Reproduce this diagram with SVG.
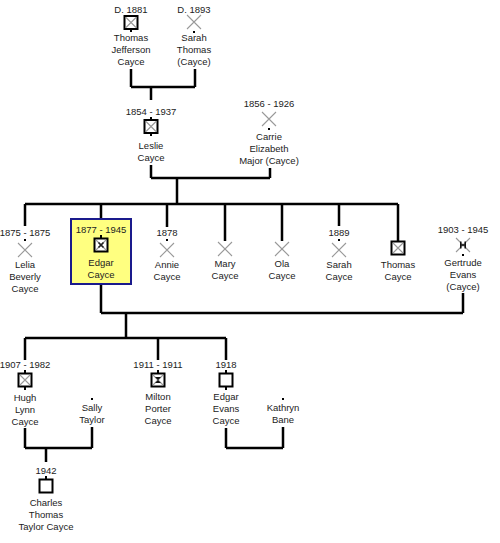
<svg xmlns="http://www.w3.org/2000/svg" xmlns:xlink="http://www.w3.org/1999/xlink" width="500" height="543" viewBox="0 0 500 543">
<style>
.ln{stroke:#000;stroke-width:2.5;fill:none}
.t{font-family:"Liberation Sans",Arial,sans-serif;font-size:9.5px;fill:#222;text-anchor:middle}
.gx{stroke:#999;stroke-width:1.1;fill:none}
.bx{fill:#fff;stroke:#000;stroke-width:2}
.st{fill:#000}
.sel{fill:#ffff80;stroke:#1a1a8c;stroke-width:2}
</style>
<defs>
<g id="xx"><path class="gx" d="M-7,-7L7,7M7,-7L-7,7"/></g>
<g id="sqx"><rect class="bx" x="-6.5" y="-6.5" width="13" height="13"/><path class="gx" d="M-5,-5L5,5M5,-5L-5,5"/></g>
<g id="sq"><rect class="bx" x="-6.5" y="-6.5" width="13" height="13"/></g>
</defs>
<rect width="500" height="543" fill="#fff"/>
<g id="connectors">
<path class="ln" d="M131,69V87M195,69V87M131,87H195M151,87V100"/>
<path class="ln" d="M151,165V178M270,168V178M151,178H270M177,178V204"/>
<path class="ln" d="M25,204H398M25,204V226M101,204V219M167,204V227M225,204V241M282,204V241M339,204V226M398,204V241"/>
<path class="ln" d="M101,284V313M463,293V313M101,313H463M126,313V338"/>
<path class="ln" d="M25,338H226M25,338V360M158,338V360M226,338V360"/>
<path class="ln" d="M25,428V448M92,427V448M25,448H92M46,448V462"/>
<path class="ln" d="M226,428V448M283,427V448M226,448H283"/>
</g>
<g id="thomas-jefferson">
<text class="t" x="131" y="13">D. 1881</text>
<use href="#sqx" x="131" y="22.5"/>
<rect class="st" x="130" y="29" width="2" height="3"/>
<text class="t" x="131" y="41">Thomas</text><text class="t" x="131" y="53">Jefferson</text><text class="t" x="131" y="65">Cayce</text>
</g>
<g id="sarah-thomas">
<text class="t" x="194" y="13">D. 1893</text>
<use href="#xx" x="194" y="22"/>
<rect class="st" x="193" y="31" width="2" height="2"/>
<text class="t" x="194" y="41">Sarah</text><text class="t" x="194" y="53">Thomas</text><text class="t" x="194" y="65">(Cayce)</text>
</g>
<g id="leslie">
<text class="t" x="151" y="115">1854 - 1937</text>
<rect class="st" x="150" y="117" width="2" height="3"/>
<use href="#sqx" x="151" y="126.5"/>
<rect class="st" x="150" y="133" width="2" height="3"/>
<text class="t" x="151" y="149">Leslie</text><text class="t" x="151" y="161">Cayce</text>
</g>
<g id="carrie">
<text class="t" x="269" y="107">1856 - 1926</text>
<use href="#xx" x="269" y="119"/>
<rect class="st" x="268" y="128" width="2" height="2"/>
<text class="t" x="269" y="140">Carrie</text><text class="t" x="269" y="152">Elizabeth</text><text class="t" x="269" y="164">Major (Cayce)</text>
</g>
<g id="lelia">
<text class="t" x="25" y="236">1875 - 1875</text>
<rect class="st" x="24" y="239" width="2" height="2"/>
<use href="#xx" x="25" y="250"/>
<text class="t" x="25" y="268">Lelia</text><text class="t" x="25" y="280">Beverly</text><text class="t" x="25" y="292">Cayce</text>
</g>
<g id="edgar">
<rect class="sel" x="71" y="219" width="60" height="65"/>
<text class="t" x="101" y="233">1877 - 1945</text>
<rect class="st" x="100" y="235" width="2" height="3"/>
<rect class="bx" x="94.5" y="238.5" width="13" height="13" stroke-width="2.5"/>
<path class="gx" d="M96,240L106,250M106,240L96,250"/>
<path fill="none" stroke="#222" stroke-width="1.6" d="M98.5,242.5L103.5,247.5M103.5,242.5L98.5,247.5"/>
<text class="t" x="101" y="266">Edgar</text><text class="t" x="101" y="278">Cayce</text>
</g>
<g id="annie">
<text class="t" x="167" y="236">1878</text>
<rect class="st" x="166" y="239" width="2" height="2"/>
<use href="#xx" x="167" y="250"/>
<text class="t" x="167" y="268">Annie</text><text class="t" x="167" y="280">Cayce</text>
</g>
<g id="mary">
<use href="#xx" x="225" y="249"/>
<text class="t" x="225" y="267">Mary</text><text class="t" x="225" y="279">Cayce</text>
</g>
<g id="ola">
<use href="#xx" x="282" y="249"/>
<text class="t" x="282" y="267">Ola</text><text class="t" x="282" y="279">Cayce</text>
</g>
<g id="sarah">
<text class="t" x="339" y="236">1889</text>
<rect class="st" x="338" y="239" width="2" height="2"/>
<use href="#xx" x="339" y="250"/>
<text class="t" x="339" y="268">Sarah</text><text class="t" x="339" y="280">Cayce</text>
</g>
<g id="thomas">
<rect class="bx" x="391.5" y="241.5" width="13" height="13" stroke-width="2.5"/>
<path class="gx" d="M393,243L403,253M403,243L393,253"/>
<text class="t" x="398" y="268">Thomas</text><text class="t" x="398" y="280">Cayce</text>
</g>
<g id="gertrude">
<text class="t" x="463" y="233">1903 - 1945</text>
<use href="#xx" x="463" y="245"/>
<path fill="#111" d="M460,241.5h1.5v7h-1.5zM464.5,241.5h1.5v7h-1.5zM461,244.3h4v1.5h-4z"/>
<rect class="st" x="462" y="254" width="2" height="2"/>
<text class="t" x="463" y="266">Gertrude</text><text class="t" x="463" y="278">Evans</text><text class="t" x="463" y="290">(Cayce)</text>
</g>
<g id="hugh-lynn">
<text class="t" x="25" y="368">1907 - 1982</text>
<rect class="st" x="24" y="370" width="2" height="3"/>
<use href="#sqx" x="25" y="380"/>
<rect class="st" x="24" y="387" width="2" height="3"/>
<text class="t" x="25" y="401">Hugh</text><text class="t" x="25" y="413">Lynn</text><text class="t" x="25" y="425">Cayce</text>
</g>
<g id="sally">
<rect class="st" x="91" y="398" width="2" height="2"/>
<text class="t" x="92" y="411">Sally</text><text class="t" x="92" y="423">Taylor</text>
</g>
<g id="charles">
<text class="t" x="46" y="474">1942</text>
<rect class="st" x="45" y="476" width="2" height="3"/>
<use href="#sq" x="46" y="486"/>
<text class="t" x="46" y="506">Charles</text><text class="t" x="46" y="518">Thomas</text><text class="t" x="46" y="530">Taylor Cayce</text>
</g>
<g id="milton">
<text class="t" x="158" y="368">1911 - 1911</text>
<rect class="st" x="157" y="370" width="2" height="3"/>
<use href="#sqx" x="158" y="380"/>
<path fill="#111" d="M155,377L161,377L158,380ZM155,383L158,380L161,383Z"/>
<text class="t" x="158" y="400">Milton</text><text class="t" x="158" y="412">Porter</text><text class="t" x="158" y="424">Cayce</text>
</g>
<g id="edgar-evans">
<text class="t" x="226" y="368">1918</text>
<rect class="st" x="225" y="370" width="2" height="3"/>
<use href="#sq" x="226" y="380"/>
<rect class="st" x="225" y="387" width="2" height="3"/>
<text class="t" x="226" y="400">Edgar</text><text class="t" x="226" y="412">Evans</text><text class="t" x="226" y="424">Cayce</text>
</g>
<g id="kathryn">
<rect class="st" x="282" y="398" width="2" height="2"/>
<text class="t" x="283" y="411">Kathryn</text><text class="t" x="283" y="423">Bane</text>
</g>
</svg>
